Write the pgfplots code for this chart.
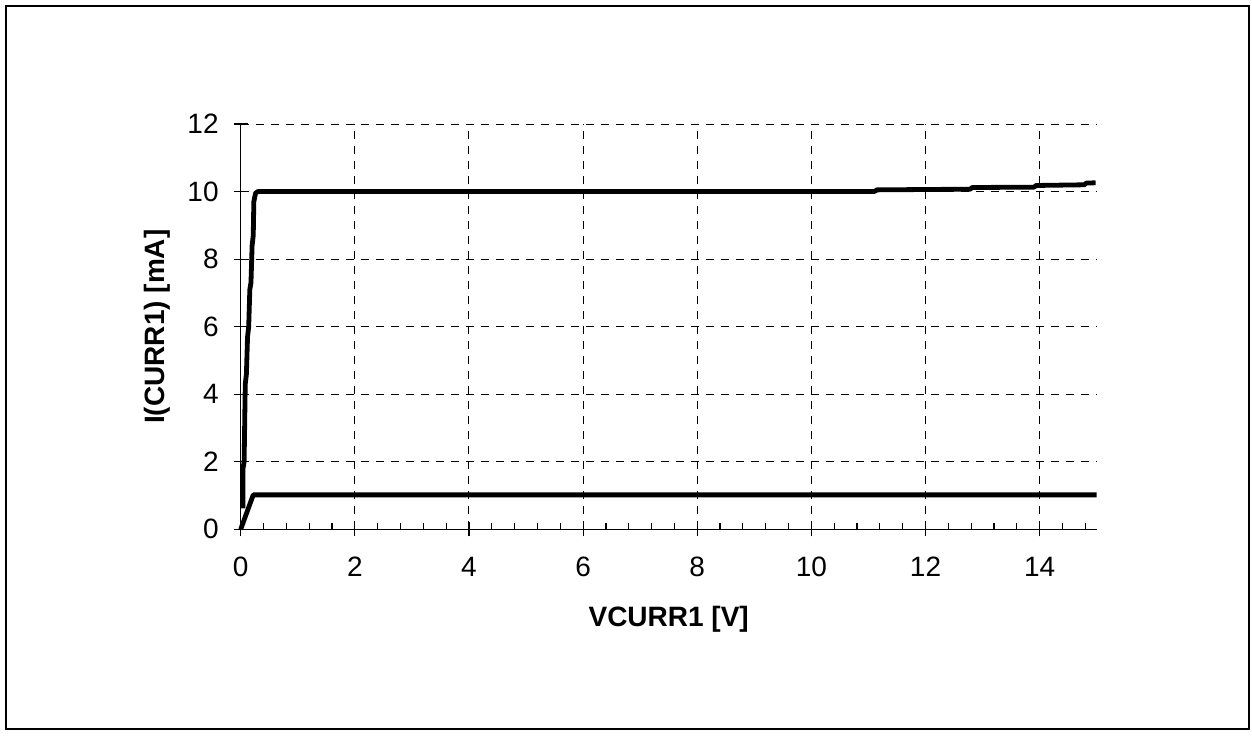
\documentclass[border=0pt]{standalone}
\usepackage{pgfplots}
\pgfplotsset{compat=1.18}
\usepackage{fontspec}
\setmainfont{Liberation Sans}
\begin{document}
\begin{tikzpicture}
\path[use as bounding box] (0,0) rectangle (626pt,367.5pt);
\draw[line width=1pt] (3pt,3pt) rectangle (624.5pt,364.5pt);
\begin{axis}[
  at={(120.35pt,102.85pt)}, anchor=origin,
  scale only axis, width=428pt, height=202.65pt,
  xmin=0, xmax=15, ymin=0, ymax=12,
  axis x line=bottom, axis y line=left,
  axis line style={-, line width=0.6pt},
  xtick={0,2,...,14}, ytick={0,2,...,12},
  tick align=center,
  major tick length=7pt,
  major tick style={line width=0.6pt, black},
  grid=major,
  major grid style={dash pattern=on 4pt off 3.5pt, line width=0.5pt, black},
  extra x ticks={0.4,0.8,1.2,1.6,2.4,2.8,3.2,3.6,4.4,4.8,5.2,5.6,6.4,6.8,7.2,7.6,
    8.4,8.8,9.2,9.6,10.4,10.8,11.2,11.6,12.4,12.8,13.2,13.6,14.4,14.8},
  extra x tick labels={},
  extra x tick style={tick align=inside, major tick length=3.4pt, grid=none,
    major tick style={line width=0.6pt, black}},
  tick label style={font=\fontsize{14}{16}\selectfont},
  /pgf/number format/assume math mode=true,
  xticklabel style={yshift=-7pt},
  yticklabel style={xshift=-4pt},
  xlabel={\textbf{VCURR1 [V]}},
  ylabel={\textbf{I(CURR1) [mA]}},
  label style={font=\fontsize{14}{16}\selectfont},
  xlabel style={at={(axis description cs:0.5,0)}, anchor=center, yshift=-45pt},
  ylabel style={at={(axis description cs:-0.097,0.5)}, anchor=center},
  clip=false,
]
\addplot[black, line width=2.4pt, line join=round] coordinates {
(0.04,0.62) (0.04,1.8) (0.06,2.0) (0.08,4.3) (0.10,4.6) (0.12,5.7) (0.14,6.0)
(0.16,7.1) (0.18,7.3) (0.20,8.4) (0.22,8.7) (0.23,9.7) (0.26,9.95) (0.30,10.0)
(11.10,10.0) (11.15,10.05) (12.78,10.07) (12.82,10.12) (13.90,10.13)
(13.94,10.18) (14.78,10.20) (14.82,10.25) (14.98,10.26)
};
\addplot[black, line width=2.4pt, line join=round] coordinates {
(0,0) (0.22,1.02) (15,1.02)
};
\end{axis}
\end{tikzpicture}
\end{document}
